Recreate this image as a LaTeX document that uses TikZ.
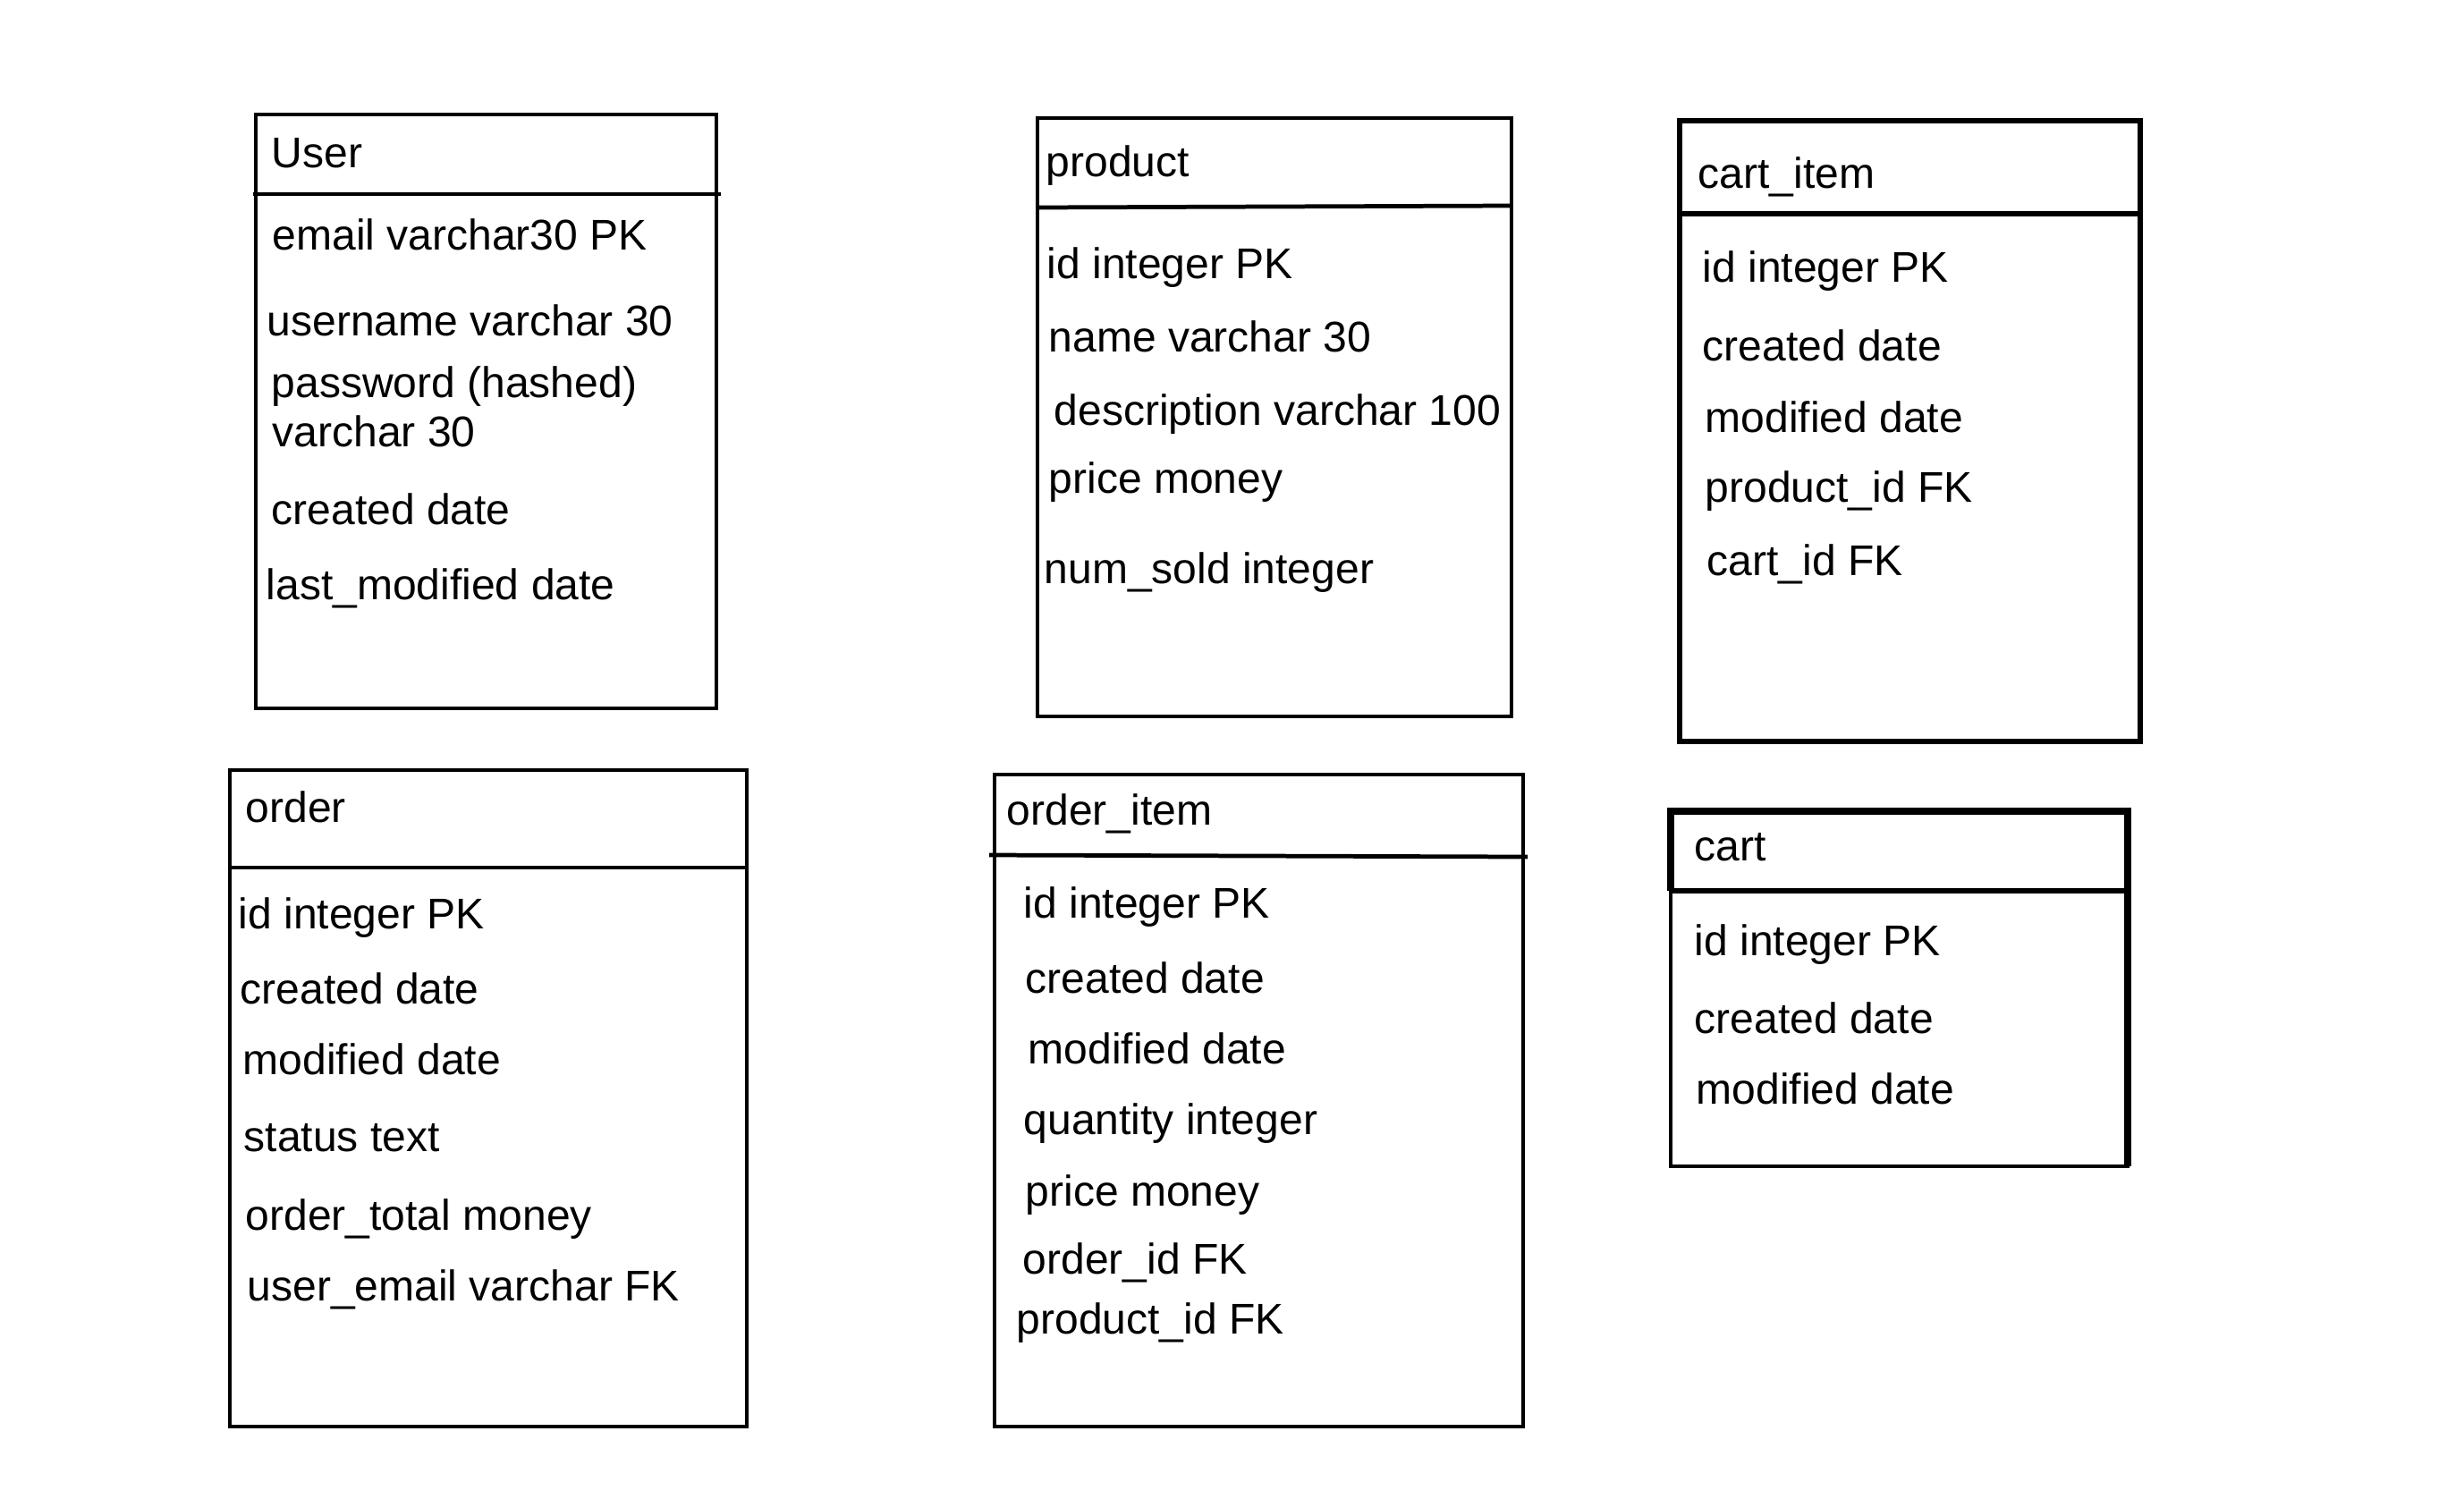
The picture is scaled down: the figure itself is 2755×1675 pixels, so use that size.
\documentclass[tikz,border=0pt]{standalone}
\usepackage{fontspec}
\setmainfont{Liberation Sans}

\tikzset{
  tbl/.style={line width=1.35pt},
  tblthick/.style={line width=2.4pt},
  field/.style={anchor=base west, inner sep=0pt, font=\fontsize{13.66}{16}\selectfont},
}

\begin{document}
\begin{tikzpicture}[x=0.01cm, y=-0.01cm]
\fill[white] (0,0) rectangle (2755,1675);
\useasboundingbox (0,0) rectangle (2755,1675);

% User
\draw[tbl] (286,128) rectangle (801,792);
\draw[tbl] (283,217) -- (806,217);
\node[field] (user) at (303,187) {User};
\foreach \x/\y/\t[count=\i] in {304/279/email varchar30 PK, 298/375/username varchar 30,
    303/444/password (hashed), 304/499/varchar 30, 303/586/created date,
    297/670/last\_modified date}
  \node[field] (user-\i) at (\x,\y) {\t};

% product
\draw[tbl] (1160,132) rectangle (1690,801);
\draw[tbl] (1158,232) -- (1688,230);
\node[field] (product) at (1169,197) {product};
\foreach \x/\y/\t[count=\i] in {1170/311/id integer PK, 1172/393/name varchar 30,
    1178/475/description varchar 100, 1172/551/price money, 1167/652/num\_sold integer}
  \node[field] (product-\i) at (\x,\y) {\t};

% cart_item
\draw[tbl, line width=1.5pt] (1878,135) rectangle (2393,829);
\draw[tbl, line width=1.5pt] (1878,239) -- (2393,239);
\node[field] (cartitem) at (1898,210) {cart\_item};
\foreach \x/\y/\t[count=\i] in {1903/315/id integer PK, 1903/403/created date,
    1906/483/modified date, 1906/561/product\_id FK, 1908/643/cart\_id FK}
  \node[field] (cartitem-\i) at (\x,\y) {\t};

% order
\draw[tbl] (257,861) rectangle (835,1595);
\draw[tbl] (255,970) -- (833,970);
\node[field] (order) at (274,919) {order};
\foreach \x/\y/\t[count=\i] in {266/1038/id integer PK, 268/1122/created date,
    271/1201/modified date, 272/1287/status text, 274/1375/order\_total money,
    276/1454/user\_email varchar FK}
  \node[field] (order-\i) at (\x,\y) {\t};

% order_item
\draw[tbl] (1112,866) rectangle (1703,1595);
\draw[tbl] (1106,956) -- (1708,958);
\node[field] (orderitem) at (1125,922) {order\_item};
\foreach \x/\y/\t[count=\i] in {1144/1026/id integer PK, 1146/1110/created date,
    1149/1189/modified date, 1144/1268/quantity integer, 1146/1348/price money,
    1143/1424/order\_id FK, 1136/1491/product\_id FK}
  \node[field] (orderitem-\i) at (\x,\y) {\t};

% cart
\draw[tbl] (1868,907) rectangle (2379,1304);
\draw[tblthick] (1868,996) -- (1868,907) -- (2379,907) -- (2379,1304);
\draw[tbl, line width=1.6pt] (1868,996) -- (2379,996);
\node[field] (cart) at (1894,962) {cart};
\foreach \x/\y/\t[count=\i] in {1894/1068/id integer PK, 1894/1155/created date,
    1896/1234/modified date}
  \node[field] (cart-\i) at (\x,\y) {\t};
\end{tikzpicture}
\end{document}
